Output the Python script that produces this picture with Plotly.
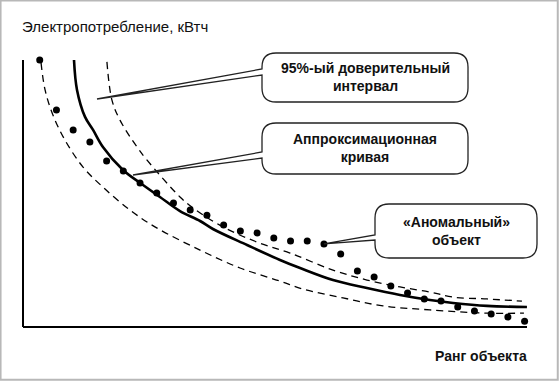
import plotly.graph_objects as go

# ---------------- data (rank, consumption in relative units) ----------------
ranks = list(range(1, 31))
consumption = [100.0, 81.3, 73.8, 69.3, 62.2, 58.4, 53.9, 50.2, 46.4, 43.8,
               41.9, 38.2, 36.0, 35.2, 33.3, 32.2, 32.2, 31.1, 27.3, 21.0,
               18.7, 15.4, 12.7, 10.5, 9.7, 7.5, 6.0, 4.9, 3.7, 2.2]
anomaly_index = 17

fit_x = [3.05, 3.23, 3.71, 4.19, 4.78, 5.98, 7.18, 8.19, 9.39, 10.59, 11.36,
         13.40, 15.37, 16.57, 18.54, 20.57, 22.55, 24.34, 25.72, 27.75, 30.14]
fit_y = [100.0, 88.8, 78.7, 73.8, 67.4, 58.8, 53.2, 48.7, 43.4, 39.7, 36.7,
         30.7, 25.1, 22.1, 17.6, 14.6, 12.0, 10.1, 9.0, 7.9, 7.5]

upper_x = [5.02, 5.32, 5.80, 6.82, 7.42, 9.39, 10.17, 11.96, 14.00, 15.97,
           18.54, 20.57, 22.55, 24.34, 25.72, 27.75, 29.84]
upper_y = [99.3, 85.0, 77.5, 67.4, 62.5, 48.7, 44.6, 37.5, 31.8, 27.7,
           21.3, 17.6, 15.0, 13.1, 11.2, 10.5, 9.7]

lower_x = [1.08, 1.32, 1.79, 2.51, 3.59, 4.78, 6.40, 7.89, 10.59, 12.98,
           15.37, 16.75, 19.14, 21.53, 24.34, 27.75, 29.96]
lower_y = [98.9, 88.8, 79.4, 70.0, 59.9, 52.4, 43.8, 37.5, 28.8, 22.1,
           17.2, 14.2, 10.9, 7.9, 6.4, 5.2, 5.2]

y_title = "Электропотребление, кВтч"
x_title = "Ранг объекта"
label_ci = ["95%-ый доверительный", "интервал"]
label_fit = ["Аппроксимационная", "кривая"]
label_anom = ["«Аномальный»", "объект"]

# ---------------- layout helpers (page pixels -> axis units) ----------------
W, H = 560, 382
def X(px):
    return (px - 23) / 16.72
def Y(py):
    return (327 - py) / 2.67

FONT = "Liberation Sans, Arial, sans-serif"

fig = go.Figure()

fig.add_trace(go.Scatter(x=lower_x, y=lower_y, mode="lines", line_shape="spline",
                         line=dict(color="black", width=1.3, dash="7px,5px"),
                         hoverinfo="skip", showlegend=False))
fig.add_trace(go.Scatter(x=upper_x, y=upper_y, mode="lines", line_shape="spline",
                         line=dict(color="black", width=1.3, dash="7px,5px"),
                         hoverinfo="skip", showlegend=False))
fig.add_trace(go.Scatter(x=fit_x, y=fit_y, mode="lines", line_shape="spline",
                         line=dict(color="black", width=2.6),
                         hoverinfo="skip", showlegend=False))
fig.add_trace(go.Scatter(x=ranks, y=consumption, mode="markers",
                         marker=dict(color="black", size=7),
                         cliponaxis=False, showlegend=False))

shapes = []
# axes
shapes.append(dict(type="line", x0=0, y0=0, x1=0, y1=100,
                   line=dict(color="black", width=2)))
shapes.append(dict(type="line", x0=0, y0=0, x1=X(527), y1=0,
                   line=dict(color="black", width=2)))

def callout(left, top, right, bottom, b1, b2, tip, r=14):
    """rounded box (pixel coords) whose left side opens into a wedge to tip"""
    def p(px, py):
        return f"{X(px):.4f},{Y(py):.4f}"
    d = "M " + p(left, b1)
    d += " L " + p(left, top + r)
    d += " Q " + p(left, top) + " " + p(left + r, top)
    d += " L " + p(right - r, top)
    d += " Q " + p(right, top) + " " + p(right, top + r)
    d += " L " + p(right, bottom - r)
    d += " Q " + p(right, bottom) + " " + p(right - r, bottom)
    d += " L " + p(left + r, bottom)
    d += " Q " + p(left, bottom) + " " + p(left, bottom - r)
    d += " L " + p(left, b2)
    d += f" L {tip[0]:.4f},{tip[1]:.4f} Z"
    return dict(type="path", path=d, fillcolor="white", layer="above",
                line=dict(color="#222", width=1.3))

shapes.append(callout(262, 53, 468, 102, 69, 75, (X(97), Y(99))))
shapes.append(callout(262, 123, 468, 174, 152, 158, (X(133), Y(175))))
shapes.append(callout(375, 204, 537, 258, 235, 240,
                      (ranks[anomaly_index], consumption[anomaly_index])))

# outer frame
shapes.append(dict(type="rect", xref="paper", yref="paper", x0=0.001, y0=0.006,
                   x1=0.996, y1=0.999, line=dict(color="#b8b8b8", width=2)))

def bold_lines(lines):
    return "<br>".join("<b>" + s + "</b>" for s in lines)

box_font = dict(family=FONT, size=14, color="#111")
annotations = [
    dict(x=X(20), y=Y(26), text=y_title, showarrow=False, xanchor="left",
         yanchor="middle", font=dict(family=FONT, size=15, color="#111")),
    dict(x=X(529), y=Y(356), text="<b>" + x_title + "</b>", showarrow=False,
         xanchor="right", yanchor="middle", font=dict(family=FONT, size=14, color="#111")),
    dict(x=X(365), y=Y(77), text=bold_lines(label_ci), showarrow=False,
         xanchor="center", yanchor="middle", align="center", font=box_font),
    dict(x=X(365), y=Y(148), text=bold_lines(label_fit), showarrow=False,
         xanchor="center", yanchor="middle", align="center", font=box_font),
    dict(x=X(456), y=Y(231), text=bold_lines(label_anom), showarrow=False,
         xanchor="center", yanchor="middle", align="center", font=box_font),
]

fig.update_layout(
    width=W, height=H, margin=dict(l=0, r=0, t=0, b=0),
    paper_bgcolor="white", plot_bgcolor="white",
    xaxis=dict(range=[X(0), X(W)], visible=False, fixedrange=True),
    yaxis=dict(range=[Y(H), Y(0)], visible=False, fixedrange=True),
    shapes=shapes, annotations=annotations, showlegend=False,
)

fig.write_html("out.html", config={"displayModeBar": False},
               post_script="document.body.style.margin='0';document.body.style.overflow='hidden';")
